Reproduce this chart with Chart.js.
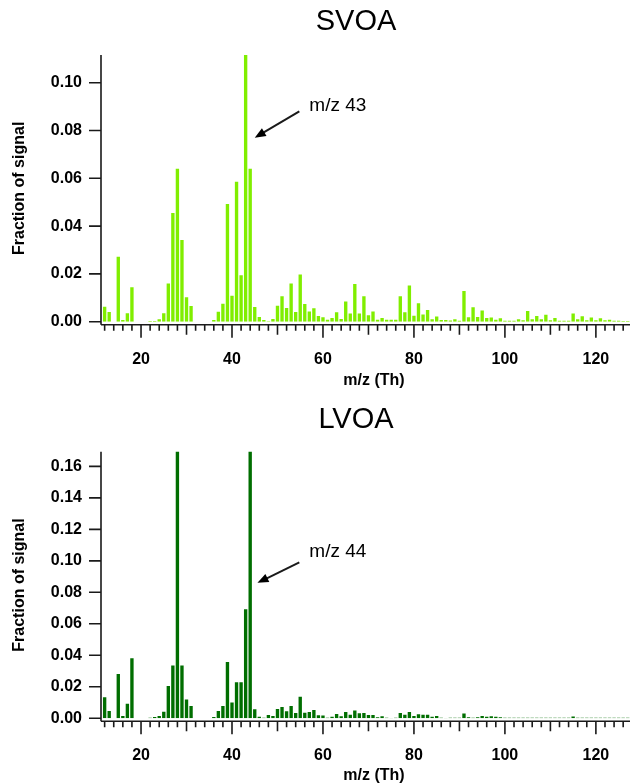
<!DOCTYPE html>
<html>
<head>
<meta charset="utf-8">
<script src="https://cdn.jsdelivr.net/npm/chart.js@4/dist/chart.umd.min.js"></script>
<style>
  html, body { margin: 0; padding: 0; background: #fff; }
  canvas { display: block; }
</style>
</head>
<body>
<canvas id="svoa" width="630" height="392"></canvas>
<canvas id="lvoa" width="630" height="392"></canvas>
<script>
// m/z 12..127
const mz = []
for (let m = 12; m <= 127; m++) mz.push(m)

const svoa = [
  0.0063, 0.0041, 0, 0.0272, 0.0007, 0.0035, 0.0144, 0, 0, 0,          // 12-21
  0.0003, 0.0003, 0.0010, 0.0035, 0.0160, 0.0455, 0.0640, 0.0342, 0.0102, 0.0066, // 22-31
  0, 0, 0, 0, 0.0007, 0.0042, 0.0075, 0.0493, 0.0109, 0.0586,          // 32-41
  0.0194, 0.1116, 0.0640, 0.0062, 0.0020, 0.0007, 0.0002, 0.0011, 0.0067, 0.0107, // 42-51
  0.0057, 0.0160, 0.0041, 0.0198, 0.0074, 0.0043, 0.0056, 0.0024, 0.0019, 0.0008, // 52-61
  0.0016, 0.0040, 0.0011, 0.0085, 0.0034, 0.0158, 0.0034, 0.0106, 0.0027, 0.0043, // 62-71
  0.0008, 0.0015, 0.0008, 0.0008, 0.0008, 0.0107, 0.0040, 0.0152, 0.0025, 0.0077, // 72-81
  0.0030, 0.0049, 0.0010, 0.0022, 0.0007, 0.0007, 0.0005, 0.0010, 0.0004, 0.0128, // 82-91
  0.0019, 0.0060, 0.0020, 0.0047, 0.0015, 0.0018, 0.0008, 0.0014, 0.0004, 0.0004, // 92-101
  0.0004, 0.0010, 0.0006, 0.0045, 0.0010, 0.0024, 0.0010, 0.0029, 0.0006, 0.0015, // 102-111
  0.0004, 0.0004, 0.0004, 0.0034, 0.0010, 0.0023, 0.0006, 0.0018, 0.0006, 0.0014, // 112-121
  0.0006, 0.0008, 0.0004, 0.0004, 0.0003, 0.0003                      // 122-127
]

const lvoa = [
  0.0133, 0.0046, 0, 0.0281, 0.0015, 0.0093, 0.0381, 0, 0, 0,          // 12-21
  0.0003, 0.0008, 0.0015, 0.0042, 0.0205, 0.0336, 0.2200, 0.0336, 0.0120, 0.0078, // 22-31
  0, 0, 0, 0, 0.0008, 0.0046, 0.0078, 0.0357, 0.0101, 0.0229,          // 32-41
  0.0229, 0.0692, 0.2500, 0.0057, 0.0010, 0.0004, 0.0021, 0.0015, 0.0059, 0.0072, // 42-51
  0.0044, 0.0078, 0.0034, 0.0137, 0.0036, 0.0040, 0.0053, 0.0019, 0.0017, 0.0004, // 52-61
  0.0010, 0.0027, 0.0013, 0.0040, 0.0023, 0.0050, 0.0032, 0.0034, 0.0021, 0.0021, // 62-71
  0.0006, 0.0013, 0.0004, 0.0002, 0.0004, 0.0034, 0.0023, 0.0040, 0.0015, 0.0025, // 72-81
  0.0023, 0.0023, 0.0010, 0.0015, 0.0004, 0.0002, 0.0004, 0.0004, 0.0003, 0.0030, // 82-91
  0.0006, 0.0004, 0.0006, 0.0015, 0.0010, 0.0013, 0.0010, 0.0006, 0.0003, 0.0003, // 92-101
  0.0003, 0.0003, 0.0003, 0.0003, 0.0003, 0.0003, 0.0003, 0.0003, 0.0003, 0.0003, // 102-111
  0.0003, 0.0003, 0.0003, 0.0012, 0.0003, 0.0003, 0.0003, 0.0003, 0.0003, 0.0003, // 112-121
  0.0003, 0.0003, 0.0003, 0.0003, 0.0003, 0.0003                      // 122-127
]

const xTicks = []
for (let v = 12; v <= 126; v += 2) xTicks.push(v)
const svoaYTicks = [0, 0.02, 0.04, 0.06, 0.08, 0.10]
const lvoaYTicks = [0, 0.02, 0.04, 0.06, 0.08, 0.10, 0.12, 0.14, 0.16]

const xTitle = 'm/z (Th)'
const yTitle = 'Fraction of signal'
const FONT = "'Liberation Sans', Arial, sans-serif"

// axis lines, Igor-style ticks, titles and the arrow note
const decor = {
  id: 'decor',
  afterDraw(chart, args, opts) {
    const { ctx, chartArea: a, scales: { x, y } } = chart
    const base = a.bottom + 3
    ctx.save()
    ctx.strokeStyle = '#1a1a1a'
    ctx.lineWidth = 1.6
    ctx.beginPath()
    ctx.moveTo(a.left, a.top)
    ctx.lineTo(a.left, base)
    ctx.moveTo(a.left, base)
    ctx.lineTo(a.right, base)
    x.ticks.forEach((t) => {
      const v = t.value
      const px = x.getPixelForValue(v)
      const len = v % 20 === 0 ? 13 : v % 10 === 0 ? 10 : 6
      ctx.moveTo(px, base)
      ctx.lineTo(px, base + len)
    })
    y.ticks.forEach((t) => {
      const py = y.getPixelForValue(t.value)
      ctx.moveTo(a.left, py)
      ctx.lineTo(a.left - 12, py)
    })
    ctx.stroke()

    ctx.fillStyle = '#000'
    ctx.textAlign = 'center'
    ctx.textBaseline = 'middle'
    ctx.font = '29px ' + FONT
    ctx.fillText(opts.title, 356, opts.titleY)

    ctx.font = 'bold 16px ' + FONT
    ctx.fillText(xTitle, 374, opts.xTitleY)

    ctx.save()
    ctx.translate(20, (a.top + a.bottom) / 2)
    ctx.rotate(-Math.PI / 2)
    ctx.fillText(yTitle, 0, 0)
    ctx.restore()

    // note and arrow
    const n = opts.note
    ctx.font = '19px ' + FONT
    ctx.textAlign = 'left'
    ctx.textBaseline = 'alphabetic'
    ctx.fillText(n.text, x.getPixelForValue(n.tx), y.getPixelForValue(n.ty))
    const x0 = x.getPixelForValue(n.from[0]), y0 = y.getPixelForValue(n.from[1])
    const x1 = x.getPixelForValue(n.to[0]), y1 = y.getPixelForValue(n.to[1])
    const ang = Math.atan2(y1 - y0, x1 - x0)
    ctx.lineWidth = 2
    ctx.beginPath()
    ctx.moveTo(x0, y0)
    ctx.lineTo(x1 - 7 * Math.cos(ang), y1 - 7 * Math.sin(ang))
    ctx.stroke()
    ctx.beginPath()
    ctx.moveTo(x1, y1)
    ctx.lineTo(x1 - 11 * Math.cos(ang) + 4.5 * Math.sin(ang), y1 - 11 * Math.sin(ang) - 4.5 * Math.cos(ang))
    ctx.lineTo(x1 - 11 * Math.cos(ang) - 4.5 * Math.sin(ang), y1 - 11 * Math.sin(ang) + 4.5 * Math.cos(ang))
    ctx.closePath()
    ctx.fill()
    ctx.restore()
  }
}

function makeChart(id, values, color, yMax, yTicks, plotTop, plotBottom, decorOpts) {
  const ctx = document.getElementById(id).getContext('2d')
  return new Chart(ctx, {
    type: 'bar',
    data: {
      datasets: [{
        data: mz.map((m, i) => ({ x: m, y: values[i] })),
        backgroundColor: color,
        borderWidth: 0,
        barPercentage: 0.74,
        categoryPercentage: 1
      }]
    },
    options: {
      responsive: false,
      animation: false,
      layout: { padding: { top: plotTop, left: 0, right: 0, bottom: 0 } },
      plugins: {
        legend: { display: false },
        tooltip: { enabled: false },
        decor: decorOpts
      },
      scales: {
        x: {
          type: 'linear',
          min: 11.2,
          max: 127.5,
          offset: false,
          grid: { display: false, drawTicks: false },
          border: { display: false },
          afterBuildTicks: (s) => { s.ticks = xTicks.map((v) => ({ value: v })) },
          afterFit: (s) => {
            s.height = 392 - plotBottom
            s.paddingLeft = 0
            s.paddingRight = 0
          },
          ticks: {
            autoSkip: false,
            maxRotation: 0,
            padding: 28,
            color: '#000',
            font: { family: FONT, size: 16, weight: 'bold' },
            callback: (v) => (v % 20 === 0 ? String(v) : '')
          }
        },
        y: {
          min: 0,
          max: yMax,
          grid: { display: false, drawTicks: false },
          border: { display: false },
          afterBuildTicks: (s) => { s.ticks = yTicks.map((v) => ({ value: v })) },
          afterFit: (s) => {
            s.width = 101
            s.paddingTop = 0
            s.paddingBottom = 0
          },
          ticks: {
            padding: 19,
            color: '#000',
            font: { family: FONT, size: 16, weight: 'bold' },
            callback: (v) => v.toFixed(2)
          }
        }
      }
    },
    plugins: [decor]
  })
}

makeChart('svoa', svoa, '#80ee00', 0.1116, svoaYTicks, 55, 321.7, {
  title: 'SVOA',
  titleY: 22,
  xTitleY: 381,
  note: { text: 'm/z 43', tx: 57, ty: 0.0882, from: [54.8, 0.088], to: [45, 0.077] }
})

makeChart('lvoa', lvoa, '#006e00', 0.1693, lvoaYTicks, 59.7, 326.3, {
  title: 'LVOA',
  titleY: 28,
  xTitleY: 384,
  note: { text: 'm/z 44', tx: 57, ty: 0.1025, from: [54.8, 0.099], to: [45.6, 0.086] }
})
</script>
</body>
</html>
